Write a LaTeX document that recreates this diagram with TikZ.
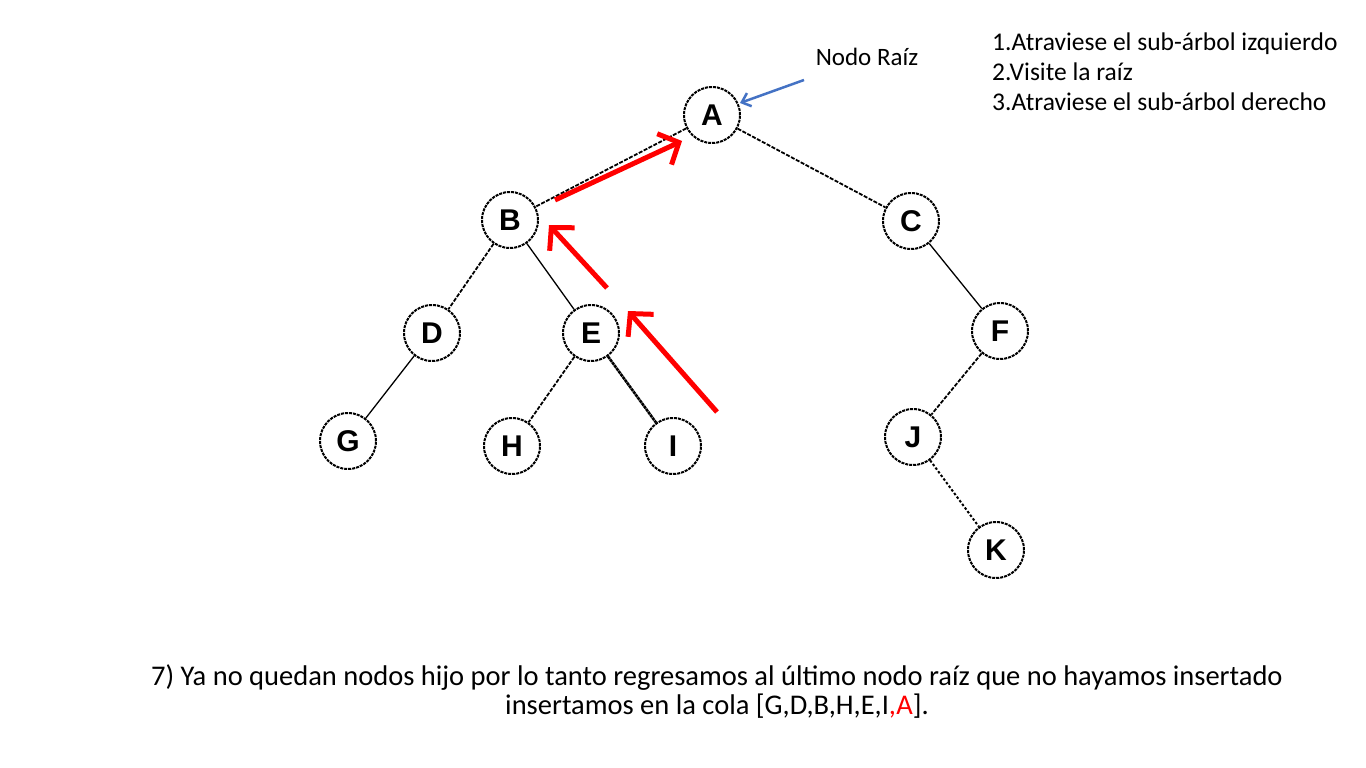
\documentclass[tikz,border=0pt]{standalone}
\usepackage{fontspec}
\setmainfont{Carlito}
\newfontfamily\treefont{Liberation Sans}
\usetikzlibrary{arrows.meta}
\definecolor{rootblue}{RGB}{68,114,196}
\begin{document}
\begin{tikzpicture}[x=1pt,y=-1pt,
  tnode/.style={circle,draw=black,line width=2pt,dash pattern=on 3pt off 1pt,
    minimum size=56pt,inner sep=0pt,font=\treefont\bfseries\fontsize{30}{30}\selectfont},
  solidedge/.style={draw=black,line width=1.3pt},
  dashedge/.style={draw=black,line width=1.8pt,dash pattern=on 4pt off 1.5pt},
  dotedge/.style={draw=black,line width=2pt,dash pattern=on 2.5pt off 2pt},
  jagedge/.style={draw=black,line width=2.6pt,dash pattern=on 3pt off 0.6pt},
  redarrow/.style={draw=red,line width=5pt,-{Straight Barb[length=16pt,width=34pt,line width=5pt]}},
  bluearrow/.style={draw=rootblue,line width=2.5pt,-{Straight Barb[length=8pt,width=14pt,line width=2.5pt]}},
  label/.style={font=\fontsize{25}{30}\selectfont,inner sep=0pt}
]
\useasboundingbox (0,0) rectangle (1366,768);
\fill[white] (0,0) rectangle (1366,768);

% tree nodes
\node[tnode] (A) at (712,115) {A};
\node[tnode] (B) at (510,220) {B};
\node[tnode] (C) at (911,221) {C};
\node[tnode] (D) at (432,333) {D};
\node[tnode] (E) at (591,333) {E};
\node[tnode] (F) at (1000,331) {F};
\node[tnode] (G) at (348,441) {G};
\node[tnode] (H) at (512,446) {H};
\node[tnode] (I) at (673,446) {I};
\node[tnode] (J) at (913,437) {J};
\node[tnode] (K) at (996,550) {K};

% tree edges
\draw[dashedge] (A) -- (B);
\draw[dashedge] (A) -- (C);
\draw[dashedge] (B) -- (D);
\draw[solidedge] (B) -- (E);
\draw[solidedge] (D) -- (G);
\draw[dashedge] (E) -- (H);
\draw[jagedge] (E) -- (I);
\draw[solidedge] (C) -- (F);
\draw[dashedge] (F) -- (J);
\draw[dotedge] (J) -- (K);

% traversal arrows
\coordinate (r1s) at (555,200);
\coordinate (r1e) at (682,141);
\coordinate (r2s) at (607,288);
\coordinate (r2e) at (549,225);
\coordinate (r3s) at (717,412);
\coordinate (r3e) at (628,311);
\draw[redarrow] (r1s) -- (r1e);
\draw[redarrow] (r2s) -- (r2e);
\draw[redarrow] (r3s) -- (r3e);

% root label
\node[label] (root) at (867,57) {Nodo Raíz};
\coordinate (bs) at (804,80);
\coordinate (be) at (740,103);
\draw[bluearrow] (bs) -- (be);

% rules
\node[label,anchor=west,align=left,font=\fontsize{25.5}{30}\selectfont] (rules) at (992,72) {1.Atraviese el sub-árbol izquierdo\\2.Visite la raíz\\3.Atraviese el sub-árbol derecho};

% caption
\node[label,align=center,font=\fontsize{28.5}{29}\selectfont] (cap) at (717,692)
  {7) Ya no quedan nodos hijo por lo tanto regresamos al último nodo raíz que no hayamos insertado\\
   insertamos en la cola [G,D,B,H,E,I\textcolor{red}{,A}].};
\end{tikzpicture}
\end{document}
